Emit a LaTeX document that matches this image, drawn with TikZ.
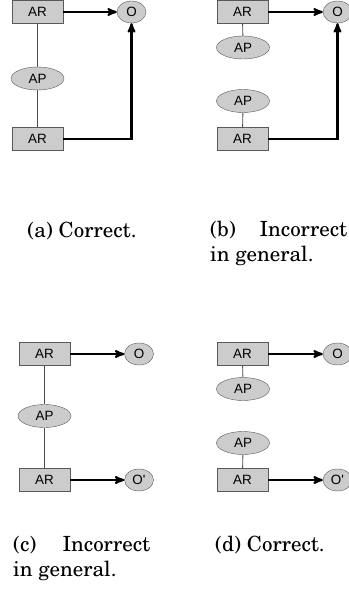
\documentclass[tikz,border=0pt]{standalone}
\usepackage[T1]{fontenc}
\usepackage{fontspec}
\newfontfamily\arial{Liberation Sans}
\newcommand\capfont{\usefont{T1}{pnc}{m}{n}\fontsize{21}{25}\selectfont}
\usetikzlibrary{arrows,shapes.geometric}

\begin{document}
\begin{tikzpicture}[x=1bp,y=-1bp,>=stealth',
	box/.style={rectangle,draw=black!65,fill=black!20,minimum width=51bp,minimum height=23bp,inner sep=0pt,font=\arial\fontsize{13.5}{14}\selectfont},
	blob/.style={ellipse,draw=black!65,fill=black!20,minimum width=53bp,minimum height=23bp,inner sep=0pt,font=\arial\fontsize{13.5}{14}\selectfont},
	outnode/.style={blob,minimum width=29bp,minimum height=22bp},
	link/.style={draw=black!70,line width=0.9bp},
	flow/.style={->,line width=2.1bp},
	caption/.style={font=\capfont,inner sep=0pt}]
	\useasboundingbox (0,0) rectangle (348,611);

	% (a) one AP between the two AR
	\node[box] (ARa1) at (37.5,12) {AR};
	\node[blob] (APa) at (37.5,78.5) {AP};
	\node[box] (ARa2) at (37.5,139) {AR};
	\node[outnode] (Oa) at (131.5,12) {O};
	\path (ARa1) edge[link] (APa);
	\path (APa) edge[link] (ARa2);
	\draw[flow] (ARa1) -- (Oa);
	\draw[flow] (ARa2.east) -| (Oa.south);
	\node[caption,anchor=base] (capa) at (82,237) {(a) Correct.};

	% (b) one AP per AR
	\node[box] (ARb1) at (242.5,12) {AR};
	\node[blob] (APb1) at (243,47.5) {AP};
	\node[blob] (APb2) at (243,101) {AP};
	\node[box] (ARb2) at (242.5,139) {AR};
	\node[outnode] (Ob) at (337.5,12) {O};
	\path (ARb1) edge[link] (APb1);
	\path (APb2) edge[link] (ARb2);
	\draw[flow] (ARb1) -- (Ob);
	\draw[flow] (ARb2.east) -| (Ob.south);
	\node[caption,anchor=north west,text width=137bp,align=justify] (capb) at (210,221) {(b) Incorrect in general.};

	% (c) shared AP, two outputs
	\node[box] (ARc1) at (44.5,354) {AR};
	\node[blob] (APc) at (44.5,416) {AP};
	\node[box] (ARc2) at (44.5,480) {AR};
	\node[outnode] (Oc1) at (139,354) {O};
	\node[outnode] (Oc2) at (139,480) {O'};
	\path (ARc1) edge[link] (APc);
	\path (APc) edge[link] (ARc2);
	\draw[flow] (ARc1) -- (Oc1);
	\draw[flow] (ARc2) -- (Oc2);
	\node[caption,anchor=north west,text width=137bp,align=justify] (capc) at (13,536) {(c) Incorrect in general.};

	% (d) one AP per AR, two outputs
	\node[box] (ARd1) at (242.5,354) {AR};
	\node[blob] (APd1) at (243,389) {AP};
	\node[blob] (APd2) at (243,443) {AP};
	\node[box] (ARd2) at (242.5,480) {AR};
	\node[outnode] (Od1) at (337.5,354) {O};
	\node[outnode] (Od2) at (337.5,480) {O'};
	\path (ARd1) edge[link] (APd1);
	\path (APd2) edge[link] (ARd2);
	\draw[flow] (ARd1) -- (Od1);
	\draw[flow] (ARd2) -- (Od2);
	\node[caption,anchor=base] (capd) at (270,551) {(d) Correct.};
\end{tikzpicture}
\end{document}
